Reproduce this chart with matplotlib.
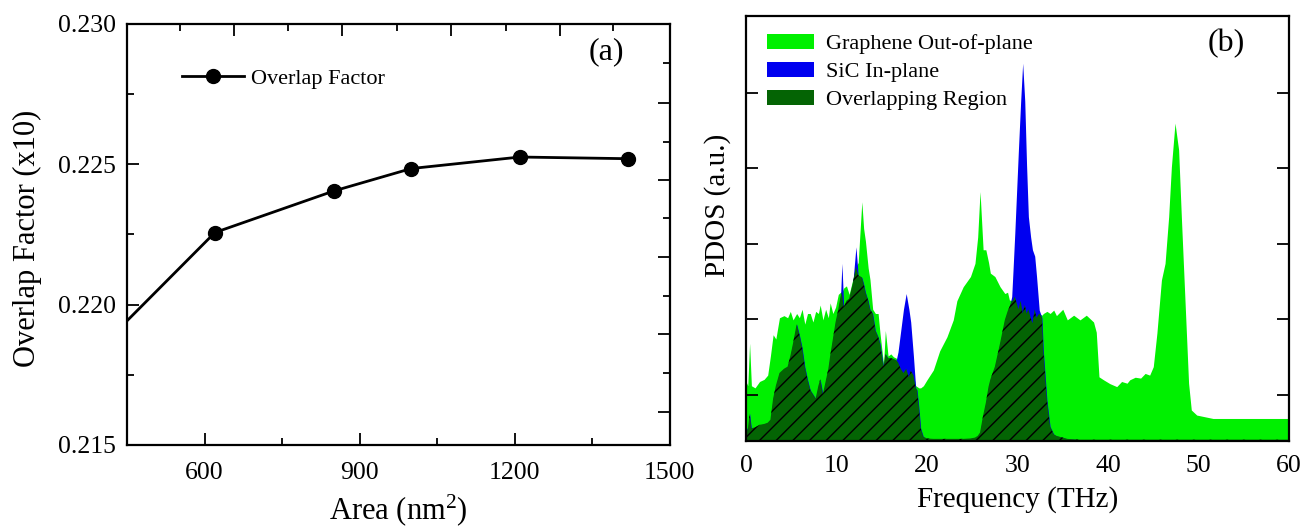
import numpy as np
import matplotlib
matplotlib.use("Agg")
import matplotlib.pyplot as plt
from matplotlib.patches import Patch

# ---------------- data: panel (a) ----------------
area = [400, 620, 850, 1000, 1210, 1420]
overlap_factor = [0.2185, 0.22257, 0.22405, 0.22485, 0.22526, 0.2252]

# ---------------- data: panel (b) (PDOS, arbitrary units, % of axis height) ----------------
freq = [0.0, 0.2, 0.4, 0.6, 1.0, 1.5, 2.0, 2.4, 2.7, 3.0, 3.3, 3.7, 4.2, 4.6, 4.9, 5.2,
        5.6, 5.9, 6.2, 6.5, 6.8, 7.1, 7.4, 7.7, 8.0, 8.2, 8.5, 8.8, 9.1, 9.3, 9.6, 9.9,
        10.2, 10.45, 10.6, 10.8, 11.1, 11.4, 11.8, 12.15, 12.4, 12.8, 13.0, 13.2, 13.5,
        13.7, 14.0, 14.3, 14.6, 14.8, 15.2, 15.4, 15.7, 16.0, 16.3, 16.6, 16.8, 17.1,
        17.4, 17.7, 18.0, 18.2, 18.5, 18.75, 18.9, 19.1, 19.3, 19.6, 20.0, 20.7, 21.4,
        22.2, 22.9, 23.3, 24.0, 24.8, 25.3, 25.6, 25.86, 26.2, 26.5, 26.8, 27.0, 27.5,
        28.07, 28.6, 28.9, 29.1, 29.36, 29.5, 29.7, 30.1, 30.35, 30.57, 30.8, 31.0,
        31.2, 31.45, 31.65, 31.9, 32.1, 32.4, 32.7, 32.85, 33.25, 33.6, 34.0, 34.3,
        35.0, 35.5, 36.2, 36.9, 37.6, 38.4, 38.7, 39.0, 39.5, 40.2, 40.96, 41.5, 42.1,
        42.4, 43.0, 43.6, 44.1, 44.6, 45.0, 45.4, 45.9, 46.3, 46.7, 47.0, 47.4, 47.8,
        48.1, 48.5, 48.9, 49.2, 49.8, 51.6, 60.0]
graphene_out = [14, 13, 23, 13, 12.5, 14, 14.5, 15.5, 20, 25, 24, 29, 29.5, 29, 30.5, 28.5,
                30, 29, 31, 27.5, 30, 30, 28, 30.5, 30, 32, 28.5, 31, 29, 32.5, 30, 31.5,
                34.5, 35, 35, 36, 36.5, 34.5, 38, 41, 42, 56.3, 50, 47, 40.7,
                38, 31, 30, 30, 25.5, 18, 26, 20, 20.5, 19.8, 19.5, 18.5, 17,
                16, 17, 15, 16.5, 15.5, 13, 12.8, 12.5, 12.5, 13, 14.4, 16.7, 21.2,
                24.5, 28.5, 33, 36.3, 38.7, 41.8, 48, 58.7, 45, 45, 42, 39.5, 38.7,
                36.3, 34.7, 35, 33.2, 33, 33, 34, 31, 33, 30, 32, 30,
                31, 29, 27.7, 31, 29, 30, 29.6, 30, 30.5, 30, 30.8, 29.5,
                31, 28.5, 29.6, 28.5, 29.6, 28, 25.6, 15.1, 14.4, 13.5, 12.8, 14, 13.6,
                14.4, 15, 14.8, 15.9, 15.5, 17.5, 25.4, 37.9, 41.8, 52.8, 64.5, 74.8, 68.5,
                52.8, 33.2, 13.6, 7.3, 6.1, 5.3, 5.3]
sic_in = [3.5, 2.5, 6.5, 3, 3.2, 3.8, 4.0, 4.3, 5, 10, 13, 16, 17, 17.5, 20, 23,
          27.5, 25, 22, 17.5, 14.5, 12, 11, 10, 13, 14.5, 11, 14, 17, 20, 24, 28,
          31, 34, 41.8, 31.5, 33, 33.5, 37, 45.7, 39, 38.5, 37, 35, 33,
          31, 30, 26, 24.5, 23, 17.5, 20.5, 19.5, 19.5, 19.3, 19, 21, 26,
          31, 34.7, 31, 28, 20, 12.5, 12, 8, 3, 1, 0.6, 0.5, 0.5,
          0.5, 0.5, 0.5, 0.5, 0.6, 0.8, 1.2, 2, 6, 9, 12.8, 14.5, 17.5,
          23, 28.5, 30.5, 31.5, 34, 40, 48.9, 68.5, 80, 88.9, 80, 65,
          52.8, 48, 45, 43.5, 38.8, 30.8, 29, 21.4, 9.6, 3.4, 1.6, 1.2,
          0.8, 0.5, 0.4, 0.3, 0.3, 0.3, 0.3, 0.3, 0.3, 0.3, 0.3, 0.3, 0.3,
          0.3, 0.3, 0.3, 0.3, 0.3, 0.3, 0.3, 0.3, 0.3, 0.3, 0.3, 0.3, 0.3,
          0.3, 0.3, 0.3, 0.3, 0.3, 0.3, 0.3]
pdos_ticks = [10.9, 28.6, 46.4, 64.2, 81.9]

legend_b = ["Graphene Out-of-plane", "SiC In-plane", "Overlapping Region"]

# ---------------- style ----------------
plt.rcParams['font.family'] = ['Liberation Serif', 'DejaVu Serif']
plt.rcParams['mathtext.fontset'] = 'custom'
plt.rcParams['mathtext.rm'] = 'Liberation Serif'
plt.rcParams['mathtext.it'] = 'Liberation Serif:italic'
plt.rcParams['hatch.linewidth'] = 1.0
plt.rcParams['hatch.color'] = 'black'

GREEN = '#00f000'
BLUE = '#0000f0'
DARK = '#046404'

fig = plt.figure(figsize=(13.03, 5.27), dpi=100)

# ======== panel (a) ========
ax = fig.add_axes([0.0975, 0.1556, 0.4165, 0.7989])
ax.plot(area, overlap_factor, color='black', lw=2.0, marker='o', ms=10,
        label='Overlap Factor', clip_on=True)
ax.set_xlim(450, 1500)
ax.set_ylim(0.215, 0.230)
ax.set_xticks([600, 900, 1200, 1500])
ax.set_xticks([450, 750, 1050, 1350], minor=True)
ax.set_yticks([0.215, 0.220, 0.225, 0.230])
ax.set_yticklabels(['0.215', '0.220', '0.225', '0.230'])
ax.set_yticks([0.2175, 0.2225, 0.2275], minor=True)
ax.tick_params(which='both', direction='in', top=False, right=False, width=1.3,
               labelsize=18.5)
ax.tick_params(which='major', length=8.5)
ax.tick_params(which='minor', length=5)
ax.tick_params(axis='x', pad=12)
ax.tick_params(axis='y', pad=8)
for s in ax.spines.values():
    s.set_linewidth(1.6)
ax.set_xlabel('Area (nm$^{2}$)', fontsize=22)
ax.set_ylabel('Overlap Factor (x10)', fontsize=22)
ax.yaxis.set_label_coords(-0.157, 0.49)
ax.xaxis.set_label_coords(0.5, -0.112)
ax.text(0.884, 0.934, '(a)', transform=ax.transAxes, fontsize=23,
        ha='center', va='center')
ax.legend(loc='upper left', bbox_to_anchor=(0.101, 0.895), frameon=False,
          fontsize=16, handlelength=2.8, handletextpad=0.3, borderpad=0,
          borderaxespad=0)

# overlay for independent top/right ticks (as in the original)
axo = fig.add_axes(ax.get_position(), facecolor='none')
axo.set_xlim(0, 1)
axo.set_ylim(0, 1)
for s in axo.spines.values():
    s.set_visible(False)
axo.xaxis.tick_top()
axo.yaxis.tick_right()
axo.set_xticks([0.197, 0.396, 0.597, 0.798])
axo.set_xticks([0.098, 0.297, 0.497, 0.698, 0.896], minor=True)
axo.set_yticks([0.078, 0.264, 0.447, 0.629, 0.812])
axo.set_yticks([0.171, 0.354, 0.539, 0.72, 0.907], minor=True)
axo.tick_params(which='both', direction='in', labeltop=False, labelright=False,
                width=1.3)
axo.tick_params(which='major', length=8.5)
axo.tick_params(which='minor', length=5)

# ======== panel (b) ========
bx = fig.add_axes([0.5725, 0.1632, 0.4168, 0.8064])
f = np.array(freq)
g = np.array(graphene_out)
s = np.array(sic_in)
ov = np.minimum(g, s)
bx.fill_between(f, 0, g, color=GREEN, lw=0, zorder=1)
bx.fill_between(f, 0, s, color=BLUE, lw=0, zorder=2)
bx.fill_between(f, 0, ov, facecolor=DARK, edgecolor='black', hatch='//', lw=0,
                zorder=3)
bx.set_xlim(0, 60)
bx.set_ylim(0, 100)
bx.set_xticks([0, 10, 20, 30, 40, 50, 60])
bx.set_yticks(pdos_ticks)
bx.tick_params(axis='x', length=0, labelsize=18.5, pad=10)
bx.tick_params(axis='y', direction='in', length=8.5, width=1.3, left=True,
               right=True, labelleft=False)
for sp in bx.spines.values():
    sp.set_linewidth(1.6)
    sp.set_zorder(5)
bx.set_xlabel('Frequency (THz)', fontsize=21)
bx.set_ylabel('PDOS (a.u.)', fontsize=21)
bx.yaxis.set_label_coords(-0.028, 0.555)
bx.xaxis.set_label_coords(0.5, -0.105)
bx.text(0.884, 0.934, '(b)', transform=bx.transAxes, fontsize=23,
        ha='center', va='center')
handles = [Patch(facecolor=GREEN, lw=0), Patch(facecolor=BLUE, lw=0),
           Patch(facecolor=DARK, lw=0)]
bx.legend(handles, legend_b, loc='upper left', bbox_to_anchor=(0.039, 0.958),
          frameon=False, fontsize=16, handlelength=2.1, handleheight=0.65,
          handletextpad=0.55, labelspacing=0.35, borderpad=0, borderaxespad=0)

fig.savefig('out.png', dpi=100)
